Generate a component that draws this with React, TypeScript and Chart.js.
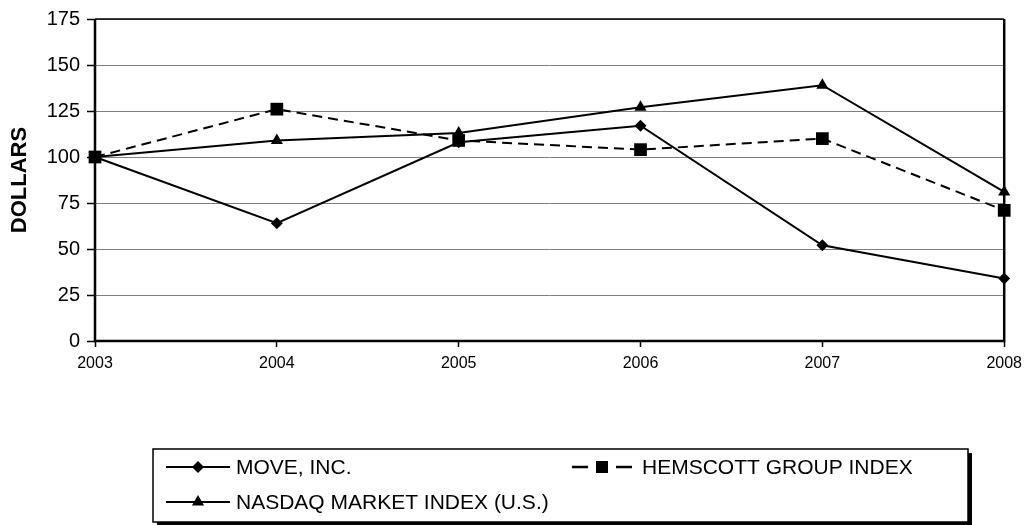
import React, { useEffect, useRef } from "react";
import { Chart, registerables } from "chart.js";

Chart.register(...registerables);

const years = ["2003", "2004", "2005", "2006", "2007", "2008"];
const moveInc = [100, 64, 108, 117, 52, 34];
const hemscott = [100, 126, 109, 104, 110, 71];
const nasdaq = [100, 109, 113, 127, 139, 81];
const yTicks = [0, 25, 50, 75, 100, 125, 150, 175];

const FONT = "'Liberation Sans', Arial, sans-serif";

const borderPlugin = {
  id: "plotBorder",
  beforeDatasetsDraw(chart: any) {
    const { ctx, chartArea: a } = chart;
    ctx.save();
    ctx.strokeStyle = "#000";
    ctx.lineWidth = 1.5;
    ctx.beginPath();
    ctx.moveTo(a.left, a.top);
    ctx.lineTo(a.right, a.top);
    ctx.stroke();
    ctx.lineWidth = 2.5;
    ctx.beginPath();
    ctx.moveTo(a.left, a.top);
    ctx.lineTo(a.left, a.bottom);
    ctx.lineTo(a.right, a.bottom);
    ctx.lineTo(a.right, a.top);
    ctx.stroke();
    ctx.restore();
  },
};

function drawMarker(ctx: CanvasRenderingContext2D, style: string, x: number, y: number) {
  ctx.beginPath();
  if (style === "rectRot") {
    const r = 6;
    ctx.moveTo(x - r, y);
    ctx.lineTo(x, y - r);
    ctx.lineTo(x + r, y);
    ctx.lineTo(x, y + r);
    ctx.closePath();
  } else if (style === "rect") {
    const s = 6;
    ctx.rect(x - s, y - s, 2 * s, 2 * s);
  } else {
    const r = 7;
    ctx.moveTo(x, y - r);
    ctx.lineTo(x + r * 0.866, y + r * 0.5);
    ctx.lineTo(x - r * 0.866, y + r * 0.5);
    ctx.closePath();
  }
  ctx.fillStyle = "#000";
  ctx.fill();
}

const legendPlugin = {
  id: "boxLegend",
  afterDraw(chart: any) {
    const { ctx } = chart;
    const bx = 153, by = 449, bw = 815, bh = 73;
    ctx.save();
    ctx.fillStyle = "#000";
    ctx.fillRect(bx + 4, by + 4, bw, bh);
    ctx.fillStyle = "#fff";
    ctx.fillRect(bx, by, bw, bh);
    ctx.strokeStyle = "#000";
    ctx.lineWidth = 1.5;
    ctx.strokeRect(bx, by, bw, bh);

    const items = chart.data.datasets.map((ds: any, i: number) => ({
      label: ds.label,
      style: ds.pointStyle,
      dash: ds.borderDash || [],
      x: i === 1 ? 572 : 166,
      y: i === 2 ? 502 : 467,
    }));
    ctx.font = `21px ${FONT}`;
    ctx.textBaseline = "middle";
    ctx.textAlign = "left";
    for (const it of items) {
      ctx.strokeStyle = "#000";
      ctx.lineWidth = 2;
      if (it.dash.length) {
        const w = 60;
        const mid = it.x + w / 2;
        ctx.lineWidth = 2.5;
        ctx.beginPath();
        ctx.moveTo(it.x, it.y);
        ctx.lineTo(it.x + 16, it.y);
        ctx.moveTo(it.x + w - 16, it.y);
        ctx.lineTo(it.x + w, it.y);
        ctx.stroke();
        drawMarker(ctx, it.style, mid, it.y);
        ctx.fillStyle = "#000";
        ctx.fillText(it.label, 642, it.y + 1);
      } else {
        const w = 64;
        const mid = it.x + w / 2;
        ctx.beginPath();
        ctx.moveTo(it.x, it.y);
        ctx.lineTo(it.x + w, it.y);
        ctx.stroke();
        drawMarker(ctx, it.style, mid, it.y);
        ctx.fillStyle = "#000";
        ctx.fillText(it.label, it.x + w + 6, it.y + 1);
      }
    }
    ctx.restore();
  },
};

export default function App() {
  const ref = useRef<HTMLCanvasElement | null>(null);

  useEffect(() => {
    if (!ref.current) return;
    const common = {
      borderColor: "#000",
      backgroundColor: "#000",
      pointBackgroundColor: "#000",
      pointBorderColor: "#000",
      borderWidth: 2,
      pointBorderWidth: 0,
      tension: 0,
      clip: false as any,
    };
    const chart = new Chart(ref.current, {
      type: "line",
      data: {
        labels: years,
        datasets: [
          { ...common, label: "MOVE, INC.", data: moveInc, pointStyle: "rectRot", pointRadius: 6 },
          { ...common, label: "HEMSCOTT GROUP INDEX", data: hemscott, pointStyle: "rect", pointRadius: 9, borderDash: [10, 6] },
          { ...common, label: "NASDAQ MARKET INDEX (U.S.)", data: nasdaq, pointStyle: "triangle", pointRadius: 7 },
        ],
      },
      options: {
        responsive: false,
        animation: false,
        devicePixelRatio: 1,
        layout: { padding: { top: 16, right: 21, left: 0, bottom: 0 } },
        plugins: {
          legend: { display: false },
          tooltip: { enabled: false },
        },
        scales: {
          x: {
            type: "category",
            offset: false,
            grid: { drawOnChartArea: false, tickLength: 6, tickColor: "#000", tickWidth: 1.5 },
            border: { display: false },
            ticks: { font: { family: FONT, size: 16 }, color: "#000", padding: 7, maxRotation: 0, autoSkip: false },
            afterFit: (s: any) => { s.height = 184; },
          },
          y: {
            min: 0,
            max: 175,
            afterBuildTicks: (s: any) => { s.ticks = yTicks.map((v) => ({ value: v })); },
            grid: { color: "#808080", lineWidth: 1, tickLength: 8, tickColor: "#000", tickWidth: 1.5 },
            border: { display: false },
            ticks: { font: { family: FONT, size: 20 }, color: "#000", padding: 7 },
            title: {
              display: true,
              text: "DOLLARS",
              color: "#000",
              font: { family: FONT, size: 22, weight: "bold" },
              padding: { top: 7, bottom: 0 },
            },
            afterFit: (s: any) => { s.width = 95; },
          },
        },
      },
      plugins: [borderPlugin, legendPlugin],
    });
    return () => chart.destroy();
  }, []);

  return (
    <div style={{ position: "absolute", left: 0, top: 0, width: 1029, height: 525, background: "#fff" }}>
      <canvas ref={ref} width={1029} height={525} />
    </div>
  );
}
